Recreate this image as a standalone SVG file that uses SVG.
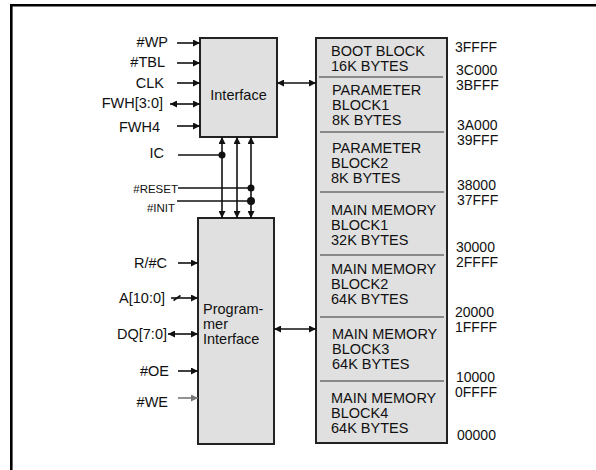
<svg xmlns="http://www.w3.org/2000/svg" width="596" height="470" viewBox="0 0 596 470">
<style>
text{font-family:"Liberation Sans",Arial,sans-serif;font-size:14.5px;fill:#111}
.r{text-anchor:end}
.sm{font-size:11.5px}
.ad{font-size:14px}
.box{fill:#e0e0e0;stroke:#222;stroke-width:2}
.ln{stroke:#111;stroke-width:1.6;fill:none}
.gl{stroke:#777;stroke-width:1.6;fill:none}
.dv{stroke:#333;stroke-width:1.2}
.dot{fill:#111}
</style>
<defs>
<marker id="a" viewBox="0 0 10 10" refX="10" refY="5" markerWidth="7" markerHeight="7" markerUnits="userSpaceOnUse" orient="auto-start-reverse"><path d="M0,0L10,5L0,10z" fill="#111"/></marker>
<marker id="ag" viewBox="0 0 10 10" refX="10" refY="5" markerWidth="7" markerHeight="7" markerUnits="userSpaceOnUse" orient="auto-start-reverse"><path d="M0,0L10,5L0,10z" fill="#777"/></marker>
</defs>
<g id="frame">
<line x1="11.3" y1="5.3" x2="596" y2="5.3" stroke="#000" stroke-width="2.6"/>
<line x1="11.3" y1="4" x2="11.3" y2="470" stroke="#000" stroke-width="2.6"/>
</g>
<g id="interface">
<rect class="box" x="200" y="38" width="77" height="99"/>
<text x="238.5" y="100" text-anchor="middle">Interface</text>
</g>
<g id="programmer">
<rect class="box" x="198" y="218" width="76" height="226"/>
<text x="203" y="314">Program-</text>
<text x="203" y="329">mer</text>
<text x="203" y="344">Interface</text>
</g>
<g id="memory">
<rect class="box" x="316" y="38" width="131" height="405"/>
<line class="dv" x1="319" y1="77" x2="443" y2="77"/>
<line class="dv" x1="320" y1="132" x2="444" y2="132"/>
<line class="dv" x1="320" y1="192" x2="444" y2="192"/>
<line class="dv" x1="320" y1="255" x2="444" y2="255"/>
<line class="dv" x1="320" y1="317" x2="444" y2="317"/>
<line class="dv" x1="320" y1="381" x2="444" y2="381"/>
<text x="331" y="56">BOOT BLOCK</text>
<text x="331" y="71">16K BYTES</text>
<text x="332" y="95">PARAMETER</text>
<text x="332" y="110">BLOCK1</text>
<text x="332" y="125">8K BYTES</text>
<text x="332" y="153">PARAMETER</text>
<text x="331" y="168">BLOCK2</text>
<text x="331" y="183">8K BYTES</text>
<text x="331" y="215">MAIN MEMORY</text>
<text x="331" y="230">BLOCK1</text>
<text x="331" y="245">32K BYTES</text>
<text x="331" y="274">MAIN MEMORY</text>
<text x="331" y="289">BLOCK2</text>
<text x="331" y="304">64K BYTES</text>
<text x="332" y="339">MAIN MEMORY</text>
<text x="332" y="354">BLOCK3</text>
<text x="332" y="369">64K BYTES</text>
<text x="331" y="403">MAIN MEMORY</text>
<text x="331" y="418">BLOCK4</text>
<text x="331" y="433">64K BYTES</text>
</g>
<g id="addresses">
<text class="ad" x="455" y="52">3FFFF</text>
<text class="ad" x="456" y="74.5">3C000</text>
<text class="ad" x="456" y="89.5">3BFFF</text>
<text class="ad" x="457" y="129.5">3A000</text>
<text class="ad" x="457" y="144.5">39FFF</text>
<text class="ad" x="457" y="190">38000</text>
<text class="ad" x="457" y="205">37FFF</text>
<text class="ad" x="456" y="252">30000</text>
<text class="ad" x="456" y="267">2FFFF</text>
<text class="ad" x="455" y="316.5">20000</text>
<text class="ad" x="455" y="331.5">1FFFF</text>
<text class="ad" x="456" y="381.5">10000</text>
<text class="ad" x="455" y="396.5">0FFFF</text>
<text class="ad" x="457" y="440">00000</text>
</g>
<g id="labels">
<text class="r" x="168" y="47">#WP</text>
<text class="r" x="165" y="67">#TBL</text>
<text class="r" x="164" y="88">CLK</text>
<text class="r" x="163" y="108">FWH[3:0]</text>
<text class="r" x="160" y="132">FWH4</text>
<text class="r" x="164" y="158">IC</text>
<text class="r sm" x="178" y="193">#RESET</text>
<text class="r sm" x="175" y="212">#INIT</text>
<text class="r" x="167" y="268">R/#C</text>
<text class="r" x="165" y="303">A[10:0]</text>
<text class="r" x="167" y="339">DQ[7:0]</text>
<text class="r" x="169" y="376">#OE</text>
<text class="r" x="168" y="407">#WE</text>
</g>
<g id="connectors">
<line class="ln" x1="177" y1="43" x2="200" y2="43" marker-end="url(#a)"/>
<line class="ln" x1="177" y1="63" x2="200" y2="63" marker-end="url(#a)"/>
<line class="ln" x1="177" y1="83" x2="200" y2="83" marker-end="url(#a)"/>
<line class="ln" x1="170" y1="104" x2="200" y2="104" marker-start="url(#a)" marker-end="url(#a)"/>
<line class="ln" x1="177" y1="126" x2="200" y2="126" marker-end="url(#a)"/>
<line class="ln" x1="178" y1="155" x2="222" y2="155"/>
<line class="ln" x1="178" y1="188" x2="251" y2="188"/>
<line class="ln" x1="177" y1="201" x2="251" y2="201"/>
<line class="ln" x1="222" y1="137" x2="222" y2="218" marker-start="url(#a)" marker-end="url(#a)"/>
<line class="ln" x1="237" y1="137" x2="237" y2="218" marker-start="url(#a)" marker-end="url(#a)"/>
<line class="ln" x1="251" y1="137" x2="251" y2="218" marker-start="url(#a)" marker-end="url(#a)"/>
<circle class="dot" cx="222" cy="155" r="3.5"/>
<circle class="dot" cx="251" cy="188" r="3.5"/>
<circle class="dot" cx="251" cy="201" r="4"/>
<line class="ln" x1="277" y1="83" x2="316" y2="83" marker-start="url(#a)" marker-end="url(#a)"/>
<line class="ln" x1="274" y1="329" x2="316" y2="329" marker-start="url(#a)" marker-end="url(#a)"/>
<line class="ln" x1="178" y1="263" x2="198" y2="263" marker-end="url(#a)"/>
<line class="ln" x1="171" y1="298" x2="198" y2="298" marker-end="url(#a)"/>
<line class="ln" x1="173.5" y1="300.5" x2="180.5" y2="295.5"/>
<line class="ln" x1="168" y1="334" x2="198" y2="334" marker-start="url(#a)" marker-end="url(#a)"/>
<line class="ln" x1="178" y1="371" x2="198" y2="371" marker-end="url(#a)"/>
<line class="gl" x1="178" y1="398" x2="198" y2="398" marker-end="url(#ag)"/>
</g>
</svg>
